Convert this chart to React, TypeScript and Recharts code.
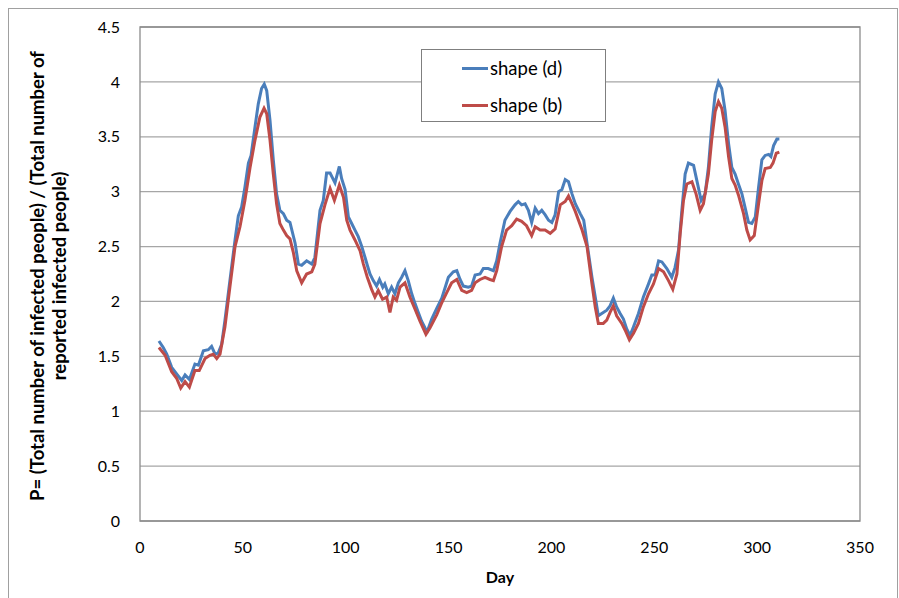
import React from 'react';
import { LineChart, Line, XAxis, YAxis, CartesianGrid, Legend, ReferenceArea, Label } from 'recharts';

const xTicks = [0, 50, 100, 150, 200, 250, 300, 350];
const yTicks = [0, 0.5, 1, 1.5, 2, 2.5, 3, 3.5, 4, 4.5];

const seriesNames = ['shape (d)', 'shape (b)'];

const shapeDDays = [9.2, 11.3, 13, 15.4, 17.8, 20.3, 21.9, 24, 26.7, 28.4, 30.8, 33.2, 34.8, 36.5, 38, 39.7, 41.3, 43.7, 46.2, 47.8, 49.4, 51, 52.7, 54, 55.9, 57.5, 59.1, 60.4, 61.6, 63.2, 64.8, 66.4, 68, 69.7, 71.3, 72.9, 75.4, 77, 78.6, 81, 83.5, 85, 87.5, 89.1, 90.7, 92.4, 94.8, 96.9, 98, 99.7, 101.3, 102.9, 104.5, 106.1, 107.8, 109.4, 110.5, 111.8, 113.4, 115, 116.4, 118, 119, 120.7, 122.3, 123.9, 125.6, 127.2, 128.8, 130.4, 132.1, 133.7, 135.3, 136.9, 138.5, 139.7, 141.8, 144.3, 146.7, 149.9, 152.3, 154, 155.6, 157.2, 159.6, 161.2, 162.9, 165.3, 166.9, 169.3, 171.8, 173.4, 175, 177.4, 179.9, 182.3, 183.9, 185.5, 187.2, 188.8, 190.4, 192.1, 193.7, 195.3, 196.9, 198.6, 200.2, 201.8, 203.5, 205.1, 206.7, 208.3, 210, 211.6, 214, 215.7, 217.3, 219.7, 221.3, 222.8, 225.2, 226.9, 228.5, 230.1, 231.7, 233.4, 235, 236.6, 238.2, 239.9, 242.3, 244.7, 247.2, 248.8, 250.4, 252.1, 253.7, 256.1, 258.5, 260.1, 261.8, 263.4, 265, 266.6, 269.1, 270.7, 272.8, 274.7, 276.3, 277.9, 279.6, 281.2, 282.8, 284.4, 286.1, 287.7, 289.3, 290.9, 292.6, 294.2, 295.8, 297.4, 299.1, 300.7, 302.3, 303.9, 305.6, 306.7, 308, 309.6, 310.8];
const shapeDValues = [1.64, 1.58, 1.52, 1.40, 1.34, 1.28, 1.33, 1.29, 1.43, 1.42, 1.55, 1.56, 1.59, 1.52, 1.53, 1.61, 1.83, 2.19, 2.56, 2.78, 2.86, 3.04, 3.26, 3.33, 3.59, 3.80, 3.94, 3.98, 3.92, 3.65, 3.29, 2.98, 2.83, 2.80, 2.74, 2.72, 2.53, 2.34, 2.33, 2.37, 2.34, 2.40, 2.83, 2.92, 3.17, 3.17, 3.08, 3.23, 3.12, 3.02, 2.77, 2.71, 2.65, 2.59, 2.50, 2.40, 2.33, 2.25, 2.19, 2.14, 2.20, 2.13, 2.16, 2.07, 2.13, 2.07, 2.17, 2.22, 2.28, 2.19, 2.07, 1.98, 1.90, 1.82, 1.76, 1.73, 1.84, 1.94, 2.03, 2.22, 2.27, 2.28, 2.20, 2.14, 2.13, 2.14, 2.24, 2.25, 2.30, 2.30, 2.28, 2.37, 2.53, 2.74, 2.82, 2.88, 2.91, 2.88, 2.89, 2.83, 2.72, 2.85, 2.80, 2.83, 2.79, 2.74, 2.72, 2.79, 3.00, 3.02, 3.11, 3.09, 2.98, 2.89, 2.80, 2.74, 2.53, 2.22, 2.04, 1.87, 1.90, 1.92, 1.96, 2.03, 1.95, 1.89, 1.84, 1.75, 1.69, 1.77, 1.89, 2.04, 2.16, 2.24, 2.24, 2.37, 2.36, 2.30, 2.22, 2.31, 2.47, 2.83, 3.16, 3.26, 3.24, 3.10, 2.92, 2.98, 3.22, 3.59, 3.89, 4.00, 3.94, 3.74, 3.44, 3.22, 3.16, 3.07, 2.98, 2.85, 2.72, 2.71, 2.77, 3.04, 3.29, 3.33, 3.34, 3.32, 3.42, 3.48, 3.48];

const shapeBDays = [9.2, 12.2, 15.4, 17.8, 19.8, 21.9, 24, 26.7, 28.8, 31.6, 34, 35.6, 37.3, 38.9, 41.3, 43.7, 46.2, 48.6, 51, 53.5, 55.9, 58.3, 60.3, 61.6, 63.2, 64.8, 66.4, 68, 69.7, 71.3, 72.9, 74.5, 76.2, 78.6, 81, 83.5, 85, 87.5, 89.9, 92.4, 94.5, 96.9, 98.9, 100.5, 102.1, 104.5, 107, 108.6, 110.5, 112.6, 114.2, 115.8, 117.9, 119.9, 121.5, 123.1, 124.7, 126.4, 128.8, 131.2, 133.7, 136.1, 139, 141, 144.3, 146.5, 149.1, 151.5, 154, 156.4, 158.8, 161.2, 162.9, 165.3, 167.7, 170.1, 171.8, 173.4, 175.8, 178.2, 180.7, 183.1, 185.5, 187.9, 190.4, 192.1, 194.5, 196.9, 199.4, 201.8, 204.3, 206.7, 208.3, 210, 211.6, 214.9, 217.3, 219.7, 221.3, 222.8, 225.2, 226.9, 228.5, 230.1, 231.7, 234.2, 235.8, 237.9, 239.9, 242.3, 244.7, 247.2, 249.6, 252.1, 254.5, 256.9, 259, 261, 262.6, 264.2, 265.8, 268.3, 270.3, 272.3, 273.9, 276.3, 277.9, 279.6, 281.2, 282.8, 284.4, 286.1, 287.7, 289.3, 290.9, 293.4, 295, 296.6, 298.6, 300.7, 302.3, 303.9, 306.4, 307.7, 309.3, 310.8];
const shapeBValues = [1.58, 1.51, 1.36, 1.30, 1.21, 1.27, 1.22, 1.37, 1.37, 1.48, 1.51, 1.52, 1.48, 1.52, 1.77, 2.13, 2.50, 2.68, 2.92, 3.22, 3.47, 3.68, 3.76, 3.71, 3.47, 3.16, 2.89, 2.71, 2.65, 2.60, 2.57, 2.45, 2.28, 2.17, 2.25, 2.27, 2.34, 2.71, 2.88, 3.03, 2.92, 3.06, 2.95, 2.74, 2.65, 2.56, 2.46, 2.34, 2.22, 2.11, 2.04, 2.10, 2.02, 2.04, 1.90, 2.04, 2.01, 2.13, 2.17, 2.04, 1.93, 1.82, 1.70, 1.76, 1.88, 1.98, 2.08, 2.17, 2.20, 2.10, 2.08, 2.10, 2.17, 2.20, 2.22, 2.20, 2.19, 2.28, 2.50, 2.65, 2.69, 2.75, 2.73, 2.69, 2.60, 2.68, 2.65, 2.65, 2.62, 2.66, 2.88, 2.91, 2.96, 2.89, 2.82, 2.65, 2.50, 2.16, 1.95, 1.80, 1.80, 1.83, 1.90, 1.96, 1.87, 1.80, 1.74, 1.65, 1.71, 1.80, 1.95, 2.07, 2.16, 2.30, 2.27, 2.19, 2.11, 2.25, 2.62, 2.92, 3.07, 3.09, 2.98, 2.83, 2.89, 3.16, 3.47, 3.73, 3.82, 3.76, 3.59, 3.32, 3.12, 3.06, 2.97, 2.80, 2.65, 2.56, 2.60, 2.89, 3.10, 3.21, 3.22, 3.26, 3.35, 3.36];

const dataD = shapeDDays.map((d, i) => ({ day: d, value: shapeDValues[i] }));
const dataB = shapeBDays.map((d, i) => ({ day: d, value: shapeBValues[i] }));

const BLUE = '#4a7ebb';
const RED = '#be4b48';
const FONT = 'Lato, "Open Sans", sans-serif';

const renderLegend = () => (
  <div
    style={{
      width: 183,
      height: 71,
      border: '1px solid #7f7f7f',
      background: '#fff',
      fontFamily: FONT,
      fontSize: 18.5,
      color: '#000',
      position: 'relative',
      boxSizing: 'content-box',
    }}
  >
    {[{ c: BLUE, n: seriesNames[0], t: 18 }, { c: RED, n: seriesNames[1], t: 55 }].map((r) => (
      <div key={r.n} style={{ position: 'absolute', left: 40, top: r.t - 12, height: 24, display: 'flex', alignItems: 'center', whiteSpace: 'nowrap' }}>
        <div style={{ width: 26, height: 3, background: r.c, marginRight: 2 }} />
        <span>{r.n}</span>
      </div>
    ))}
  </div>
);

export default function App() {
  return (
    <div style={{ position: 'absolute', left: 0, top: 0, width: 899, height: 598, background: '#fff', overflow: 'hidden' }}>
      <div style={{ position: 'absolute', left: 8, top: 8, width: 888, height: 600, border: '1px solid #a0a0a0' }} />
      <LineChart width={899} height={598} margin={{ top: 27, right: 39, bottom: 0, left: 0 }}>
        <CartesianGrid horizontal vertical={false} stroke="#a6a6a6" strokeWidth={1.3} />
        <ReferenceArea x1={0} x2={350} y1={0} y2={4.5} fill="none" stroke="#8c8c8c" strokeWidth={1.3} ifOverflow="visible" />
        <XAxis
          type="number"
          dataKey="day"
          domain={[0, 350]}
          ticks={xTicks}
          height={77}
          axisLine={false}
          tickLine={false}
          tickSize={0}
          tickMargin={21}
          tick={{ fontSize: 16, fill: '#000', fontFamily: FONT }}
          allowDataOverflow
        >
          <Label
            content={() => (
              <text x={500} y={583} textAnchor="middle" fontFamily={FONT} fontWeight="bold" fontSize={16} fill="#000">
                Day
              </text>
            )}
          />
        </XAxis>
        <YAxis
          type="number"
          domain={[0, 4.5]}
          ticks={yTicks}
          width={140}
          axisLine={false}
          tickLine={false}
          tickSize={0}
          tickMargin={20}
          tick={{ fontSize: 16, fill: '#000', fontFamily: FONT }}
          allowDataOverflow
        >
          <Label
            content={() => (
              <g fontFamily={FONT} fontWeight="bold" fontSize={18.5} fill="#000">
                <text x={0} y={0} textAnchor="middle" transform="translate(44 276) rotate(-90)">
                  P= (Total number of infected people) / (Total number of
                </text>
                <text x={0} y={0} textAnchor="middle" transform="translate(66 276) rotate(-90)">
                  reported infected people)
                </text>
              </g>
            )}
          />
        </YAxis>
        <Legend
          layout="vertical"
          align="center"
          verticalAlign="middle"
          content={renderLegend}
          wrapperStyle={{ position: 'absolute', left: 421, top: 49, width: 185, height: 73 }}
        />
        <Line data={dataD} dataKey="value" name={seriesNames[0]} stroke={BLUE} strokeWidth={3} dot={false} isAnimationActive={false} type="linear" />
        <Line data={dataB} dataKey="value" name={seriesNames[1]} stroke={RED} strokeWidth={3} dot={false} isAnimationActive={false} type="linear" />
      </LineChart>
    </div>
  );
}
